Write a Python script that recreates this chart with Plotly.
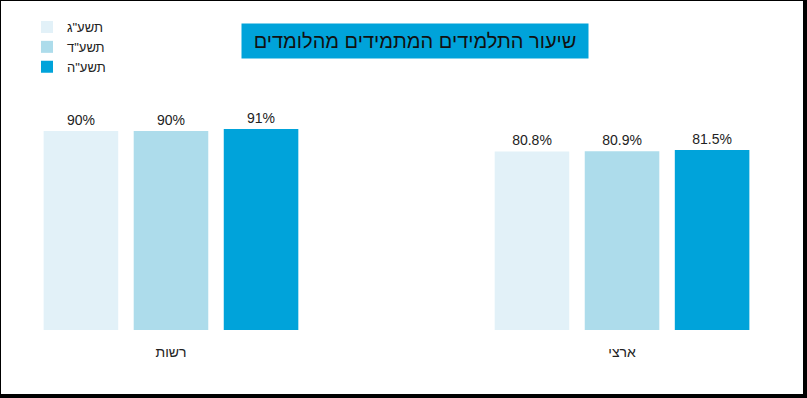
import plotly.graph_objects as go

categories = ["רשות", "ארצי"]
series_names = ["תשע\"ג", "תשע\"ד", "תשע\"ה"]
values_g = [90, 80.8]
values_d = [90, 80.9]
values_h = [91, 81.5]
labels_g = ["90%", "80.8%"]
labels_d = ["90%", "80.9%"]
labels_h = ["91%", "81.5%"]
colors = ["#E2F1F8", "#ADDCEB", "#00A3DA"]
title_text = "שיעור התלמידים המתמידים מהלומדים"

W, H = 807, 398
ml, mr, mt, mb = 5, 5, 109, 68
pw, ph = W - ml - mr, H - mt - mb

def px_to_paper_x(px):
    return (px - ml) / pw

def px_to_paper_y(py):
    return (H - mb - py) / ph

fig = go.Figure()
for name, vals, labs, col in zip(series_names, [values_g, values_d, values_h],
                                 [labels_g, labels_d, labels_h], colors):
    fig.add_trace(go.Bar(
        x=categories, y=vals, name=name, marker=dict(color=col, line=dict(width=0)),
        text=labs, textposition="outside", cliponaxis=False,
        textfont=dict(size=14, color="#222222", family="Arial"),
        hoverinfo="skip",
    ))

fig.update_layout(
    width=W, height=H,
    margin=dict(l=ml, r=mr, t=mt, b=mb, pad=0),
    paper_bgcolor="black",
    plot_bgcolor="rgba(0,0,0,0)",
    barmode="group",
    bargap=0.401,
    bargroupgap=0.172,
    font=dict(family="Arial", color="#222222"),
    showlegend=True,
    legend=dict(
        x=px_to_paper_x(27), y=px_to_paper_y(12), xanchor="left", yanchor="top",
        bgcolor="rgba(0,0,0,0)", font=dict(size=13, color="#222222"),
        traceorder="normal", itemwidth=30, tracegroupgap=0,
    ),
    xaxis=dict(
        type="category", range=[-0.368, 1.399], showgrid=False, zeroline=False,
        showline=False, ticks="outside", ticklen=9, tickcolor="rgba(0,0,0,0)",
        tickfont=dict(size=14, color="#222222"), fixedrange=True,
    ),
    yaxis=dict(
        range=[0, 100], visible=False, showgrid=False, zeroline=False, fixedrange=True,
    ),
    shapes=[dict(
        type="rect", xref="paper", yref="paper", layer="below",
        x0=px_to_paper_x(1), x1=px_to_paper_x(803),
        y0=px_to_paper_y(394), y1=px_to_paper_y(1),
        fillcolor="white", line=dict(width=0),
    )],
    annotations=[dict(
        text=title_text, xref="paper", yref="paper",
        x=px_to_paper_x(415), y=px_to_paper_y(41), xanchor="center", yanchor="middle",
        showarrow=False, bgcolor="#00A3DA", width=346, height=34, borderpad=0,
        font=dict(size=20, color="#111111", family="Arial"),
    )],
)

fig.write_html(
    "out.html",
    config={"displayModeBar": False},
    post_script="document.body.style.margin='0';document.body.style.overflow='hidden';",
)
